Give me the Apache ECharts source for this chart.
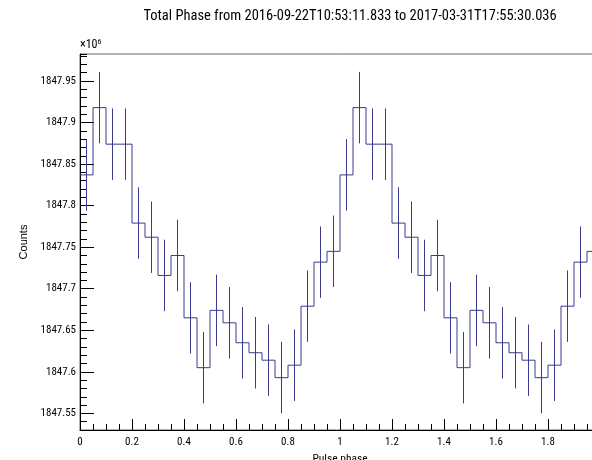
<!DOCTYPE html>
<html>
<head>
<meta charset="utf-8">
<script src="https://cdn.jsdelivr.net/npm/echarts@6/dist/echarts.min.js"></script>
<style>
  html, body { margin: 0; padding: 0; background: #fff; }
  #chart { width: 592px; height: 460px; }
</style>
</head>
<body>
<div id="chart"></div>
<script>
// Bin lower edges (pulse phase), two cycles
const phaseLow = [
  0.00, 0.05, 0.10, 0.15, 0.20, 0.25, 0.30, 0.35, 0.40, 0.45,
  0.50, 0.55, 0.60, 0.65, 0.70, 0.75, 0.80, 0.85, 0.90, 0.95,
  1.00, 1.05, 1.10, 1.15, 1.20, 1.25, 1.30, 1.35, 1.40, 1.45,
  1.50, 1.55, 1.60, 1.65, 1.70, 1.75, 1.80, 1.85, 1.90, 1.95
]
const binWidth = 0.05

// Counts in units of 10^6
const counts = [
  1847.837, 1847.918, 1847.874, 1847.874, 1847.779, 1847.762, 1847.716, 1847.740, 1847.665, 1847.605,
  1847.674, 1847.659, 1847.635, 1847.623, 1847.614, 1847.593, 1847.608, 1847.679, 1847.732, 1847.745,
  1847.837, 1847.918, 1847.874, 1847.874, 1847.779, 1847.762, 1847.716, 1847.740, 1847.665, 1847.605,
  1847.674, 1847.659, 1847.635, 1847.623, 1847.614, 1847.593, 1847.608, 1847.679, 1847.732, 1847.745
]

// Error on each bin (units of 10^6)
const errors = [
  0.043, 0.043, 0.043, 0.043, 0.043, 0.043, 0.043, 0.043, 0.043, 0.043,
  0.043, 0.043, 0.043, 0.043, 0.043, 0.043, 0.043, 0.043, 0.043, 0.043,
  0.043, 0.043, 0.043, 0.043, 0.043, 0.043, 0.043, 0.043, 0.043, 0.043,
  0.043, 0.043, 0.043, 0.043, 0.043, 0.043, 0.043, 0.043, 0.043, 0.043
]

const yMin = 1847.53
const yMax = 1847.9825
const lineColor = '#3a3a8e'
const fontNarrow = '"Roboto Condensed", "Liberation Sans", sans-serif'

// step outline: left edge of each bin, then close at the last bin's right edge
const stepData = phaseLow.map((x, i) => [x, counts[i]])
stepData.push([phaseLow[phaseLow.length - 1] + binWidth, counts[counts.length - 1]])

const errData = phaseLow.map((x, i) => [x + binWidth / 2, counts[i], errors[i]])

const isMajor = v => Math.abs(v * 20 - Math.round(v * 20)) < 1e-6

const chart = echarts.init(document.getElementById('chart'))
chart.setOption({
  animation: false,
  title: {
    text: 'Total Phase from 2016-09-22T10:53:11.833 to 2017-03-31T17:55:30.036',
    left: 345,
    top: 4,
    textAlign: 'center',
    textStyle: { fontFamily: fontNarrow, fontSize: 14.5, fontWeight: 'normal', color: '#000' }
  },
  grid: {
    left: 80, top: 54, width: 520, height: 376,
    outerBoundsMode: 'none',
    show: true, borderColor: '#666', borderWidth: 1, backgroundColor: 'transparent'
  },
  xAxis: {
    type: 'value',
    min: 0, max: 2, interval: 0.2,
    name: 'Pulse phase',
    nameLocation: 'middle',
    nameGap: 22,
    nameTextStyle: { fontFamily: fontNarrow, fontSize: 11.5, color: '#000', verticalAlign: 'top' },
    axisLine: { onZero: false, lineStyle: { color: '#000', width: 1 } },
    axisTick: { inside: true, length: 11, lineStyle: { color: '#000' } },
    minorTick: { show: true, splitNumber: 4, length: 6, lineStyle: { color: '#000' } },
    axisLabel: { margin: 7, fontFamily: fontNarrow, fontSize: 11, color: '#000',
      formatter: v => String(parseFloat(v.toFixed(2))) },
    splitLine: { show: false }
  },
  yAxis: [
    {
      // minor ticks every 0.01
      type: 'value', position: 'left',
      min: yMin, max: yMax, interval: 0.01,
      name: '×10{sup|6}',
      nameLocation: 'end',
      nameGap: 2,
      nameTextStyle: { align: 'left', fontFamily: fontNarrow, fontSize: 12, color: '#000',
        rich: { sup: { fontSize: 8, verticalAlign: 'top', padding: [0, 0, 6, 0], fontFamily: fontNarrow } } },
      axisLine: { onZero: false, lineStyle: { color: '#000', width: 1 } },
      axisTick: { inside: true, length: 7, lineStyle: { color: '#000' } },
      axisLabel: { show: false },
      splitLine: { show: false }
    },
    {
      // major ticks every 0.05 with labels
      type: 'value', position: 'left',
      min: yMin, max: yMax, minInterval: 0.05, maxInterval: 0.05,
      name: 'Counts',
      nameLocation: 'middle',
      nameGap: 50,
      nameTextStyle: { fontFamily: '"Liberation Sans", sans-serif', fontSize: 11, color: '#000' },
      axisLine: { show: false },
      axisTick: { inside: true, length: 14, lineStyle: { color: '#000' } },
      axisLabel: { margin: 4, fontFamily: fontNarrow, fontSize: 11, color: '#000',
        showMinLabel: false, showMaxLabel: false,
        formatter: v => isMajor(v) ? String(parseFloat(v.toFixed(2))) : '' },
      splitLine: { show: false }
    }
  ],
  series: [
    {
      type: 'line',
      step: 'end',
      data: stepData,
      showSymbol: false,
      lineStyle: { color: lineColor, width: 1 },
      clip: true
    },
    {
      type: 'custom',
      data: errData,
      clip: true,
      renderItem: (params, api) => {
        const x = api.value(0), v = api.value(1), e = api.value(2)
        const p1 = api.coord([x, v - e])
        const p2 = api.coord([x, v + e])
        return {
          type: 'line',
          shape: { x1: p1[0], y1: p1[1], x2: p2[0], y2: p2[1] },
          style: { stroke: lineColor, lineWidth: 1 }
        }
      }
    }
  ]
})
</script>
</body>
</html>
